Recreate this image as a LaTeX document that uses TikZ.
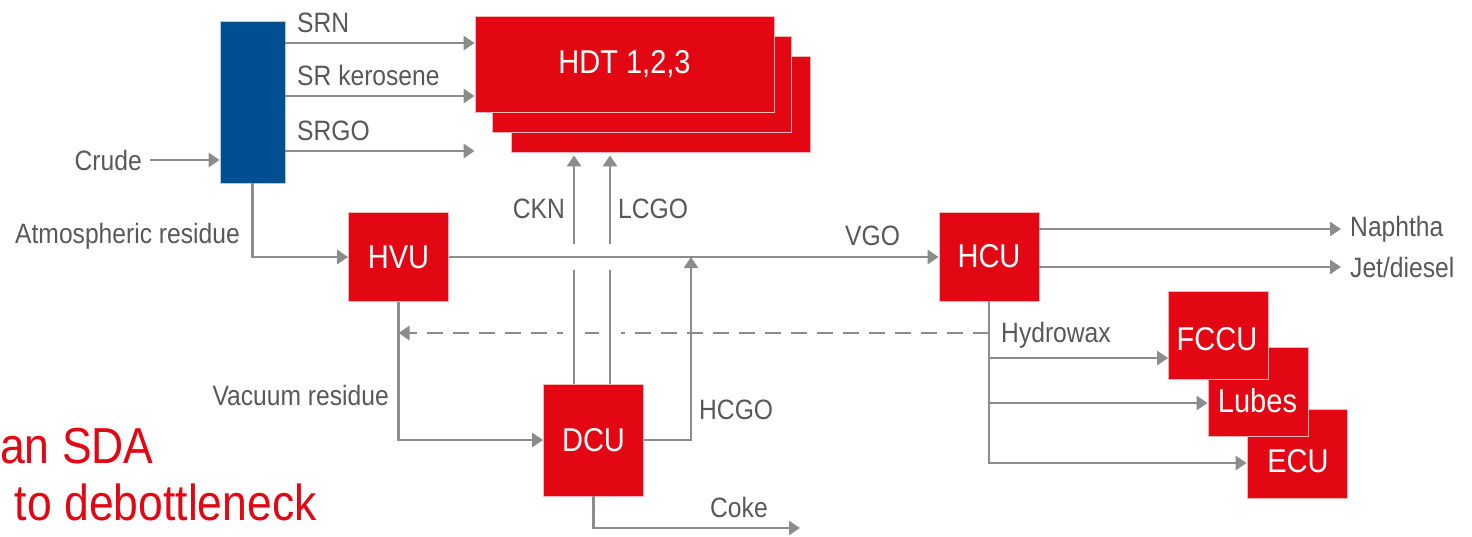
\documentclass[tikz,border=0pt]{standalone}
\usepackage{fontspec}
\setmainfont[FakeStretch=0.88]{Liberation Sans}
\usetikzlibrary{positioning,arrows.meta}
\definecolor{shellred}{RGB}{227,6,19}
\definecolor{adublue}{RGB}{0,80,145}
\definecolor{pipe}{RGB}{140,140,140}
\definecolor{txtgray}{RGB}{88,88,88}
\tikzset{
unit/.style={
  draw=white!70!shellred,
  line width=0.8pt,
  fill=shellred,
  text=white,
  minimum width=100pt,
  minimum height=89pt,
  inner sep=0pt,
  font=\fontsize{33}{40}\selectfont
  },
boxtxt/.style={
  text=white,
  inner sep=0pt,
  font=\fontsize{33}{40}\selectfont
  },
lbl/.style={
  text=txtgray,
  inner sep=0pt,
  font=\fontsize{28}{34}\selectfont
  },
note/.style={
  text=shellred,
  inner sep=0pt,
  font=\fontsize{50.6}{58}\selectfont
  },
flow/.style={
  draw=pipe,
  line width=2.8pt
  },
recycle/.style={
  flow,
  dash pattern=on 16pt off 10pt
  },
bridge/.style={
  preaction={draw=white,line width=#1,-}
  },
bridge/.default=22pt
}

\begin{document}
\begin{tikzpicture}[x=1pt,y=-1pt,>={Triangle[length=11pt,width=14pt]}]

\useasboundingbox (0,0) rectangle (1472,536);
\clip (0,0) rectangle (1472,536);

% distillation column
\node[draw=white!70!adublue,line width=0.8pt,fill=adublue,
  minimum width=65pt,minimum height=162pt,inner sep=0pt] (adu) at (252.5,102) {};

% hydrotreaters
\node[unit,minimum width=299pt,minimum height=96pt] (hdt3) at (660.5,104) {};
\node[unit,minimum width=299pt,minimum height=96pt] (hdt2) at (642,84.5) {};
\node[unit,minimum width=299pt,minimum height=96pt] (hdt1) at (624.5,64) {HDT 1,2,3};

\node[unit] (hvu) at (398.5,257) {HVU};
\node[unit] (hcu) at (989,256.5) {HCU};
\node[unit,minimum height=112pt] (dcu) at (593.5,440) {DCU};

% wax users
\node[unit] (ecu) at (1297,453.5) {};
\node[unit] (lubes) at (1258,391.5) {};
\node[unit,minimum height=88pt] (fccu) at (1218.5,335) {};
\node[boxtxt] (fccu-t) at (1217,339.5) {FCCU};
\node[boxtxt] (lubes-t) at (1257.5,400.5) {Lubes};
\node[boxtxt] (ecu-t) at (1298,461.5) {ECU};

\coordinate (srn) at (285,43);
\coordinate (srk) at (285,96);
\coordinate (srgo) at (285,151);
\coordinate (ckn) at ([xshift=-19.5pt]dcu.north);
\coordinate (lcgo) at ([xshift=16.5pt]dcu.north);
\coordinate (hcgo) at (691,257);
\coordinate (coke) at (800,528);
\coordinate (wax) at (hcu.south |- 0,333);
\coordinate (fcin) at (fccu.west |- 0,358);
\coordinate (lbin) at (lubes.west |- 0,403);
\coordinate (ecin) at (ecu.west |- 0,463);
\coordinate (nap) at (1341,229);
\coordinate (jet) at (1341,267);

\node[lbl,anchor=base east] (crude) at (142,170) {Crude};

\draw[flow,->] ([xshift=8pt]crude.east) -- (crude.east -| adu.west);
\foreach \s in {srn,srk,srgo}
  \draw[flow,->] (\s) -- (\s -| hdt1.west);
\draw[flow,->] (adu.south) |- (hvu.west);
\draw[flow,->] (hvu.south) |- (dcu.west);

\draw[recycle,->] (wax) -- (wax -| hvu.south);

\draw[flow,bridge,->,shorten >=3pt] (ckn) -- (ckn |- hdt3.south);
\draw[flow,bridge,->,shorten >=3pt] (lcgo) -- (lcgo |- hdt3.south);
\draw[flow,bridge=26pt,->] (hvu.east) -- (hvu.east -| hcu.west);
\draw[flow,->] (dcu.east) -| (hcgo);
\draw[flow,->] (dcu.south) |- (coke);

\draw[flow,->] (hcu.east |- nap) -- (nap);
\draw[flow,->] (hcu.east |- jet) -- (jet);
\draw[flow,->] (hcu.south) |- (ecin);
\draw[flow,->] (hcu.south |- fcin) -- (fcin);
\draw[flow,->] (hcu.south |- lbin) -- (lbin);

% stream names
\node[lbl,anchor=base west] (srn-l) at (297,32) {SRN};
\node[lbl,anchor=base west] (srk-l) at (297,85) {SR kerosene};
\node[lbl,anchor=base west] (srgo-l) at (297,140) {SRGO};
\node[lbl,anchor=base east] (atm-l) at (240,243) {Atmospheric residue};
\node[lbl,anchor=base east] (ckn-l) at (565,218) {CKN};
\node[lbl,anchor=base west] (lcgo-l) at (618,218) {LCGO};
\node[lbl,anchor=base west] (vgo-l) at (845,245) {VGO};
\node[lbl,anchor=base east] (vac-l) at (389,405) {Vacuum residue};
\node[lbl,anchor=base west] (hcgo-l) at (699,419) {HCGO};
\node[lbl,anchor=base west] (coke-l) at (710,517) {Coke};
\node[lbl,anchor=base west] (nap-l) at (1350,236) {Naphtha};
\node[lbl,anchor=base west] (jet-l) at (1350,277) {Jet/diesel};
\node[lbl,anchor=base west] (wax-l) at (1001,342) {Hydrowax};

\node[note,anchor=base west] (sda1) at (0,463) {an SDA};
\node[note,anchor=base east] (sda2) at (317,520) {to debottleneck};

\end{tikzpicture}
\end{document}
